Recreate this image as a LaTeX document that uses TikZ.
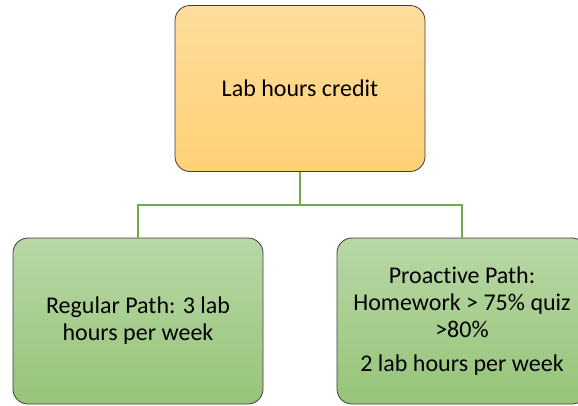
\documentclass[tikz,border=0pt]{standalone}
\usepackage{fontspec}
\setmainfont{Carlito}[Ligatures={NoCommon}]
\definecolor{orgtop}{RGB}{254,220,155}
\definecolor{orgbot}{RGB}{254,209,118}
\definecolor{grntop}{RGB}{184,215,166}
\definecolor{grnbot}{RGB}{150,196,120}
\definecolor{conn}{RGB}{112,173,71}
\definecolor{edge}{RGB}{60,60,60}
\tikzset{
  box/.style={draw=edge, line width=0.8pt, rounded corners=15pt, minimum width=250pt, minimum height=166pt, inner sep=0pt, align=center, font=\fontsize{24}{27}\selectfont},
  orangebox/.style={box, top color=orgtop, bottom color=orgbot},
  greenbox/.style={box, top color=grntop, bottom color=grnbot},
  link/.style={draw=conn, line width=2.6pt}
}
\begin{document}
\begin{tikzpicture}[x=1pt,y=-1pt]
\useasboundingbox (0,0) rectangle (578,405);
\clip (0,0) rectangle (578,405);
\fill[white] (0,0) rectangle (578,405);
\node[orangebox] (top) at (300,88.5) {Lab hours credit};
\node[greenbox] (left) at (138,321) {Regular Path: 3 lab\\hours per week};
\node[greenbox] (right) at (462,321) {\raisebox{-3pt}{Proactive Path:}\\\raisebox{-3pt}{Homework > 75\% quiz}\\\raisebox{-3pt}{>80\%}\\[8pt]\raisebox{-2pt}{2 lab hours per week}};
\coordinate (j) at (300,205);
\draw[link] (top.south) -- (j);
\draw[link] (left.north) |- (j) -| (right.north);
\end{tikzpicture}
\end{document}
